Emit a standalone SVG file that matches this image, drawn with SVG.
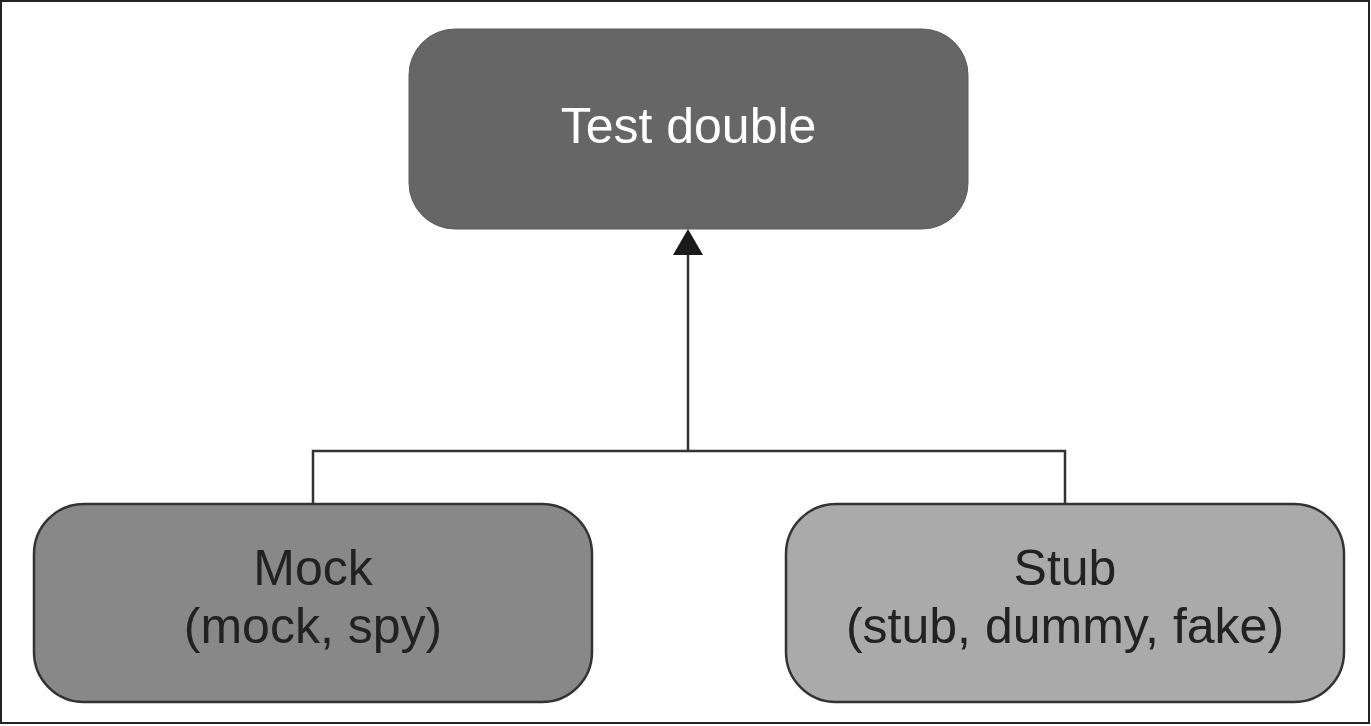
<svg xmlns="http://www.w3.org/2000/svg" width="1371" height="726" viewBox="0 0 1371 726">
<style>
.lbl{font-family:"Liberation Sans",Arial,sans-serif;font-size:50px;text-anchor:middle}
.dark{fill:#222}
.light{fill:#fff}
.conn{stroke:#333;stroke-width:2.5;fill:none}
.box{stroke:#333;stroke-width:2.5}
</style>
<rect x="1" y="1" width="1368" height="722" fill="#fff" stroke="#222" stroke-width="2"/>
<g id="connectors">
<polyline class="conn" points="313,505 313,451 1065,451 1065,505"/>
<line class="conn" x1="688" y1="451" x2="688" y2="252"/>
<polygon points="688,229 673,255 703,255" fill="#1a1a1a"/>
</g>
<g id="test-double">
<rect x="409" y="29" width="559" height="200" rx="46" ry="46" fill="#666" stroke="#5c5c5c" stroke-width="1"/>
<text class="lbl light" x="688.5" y="143">Test double</text>
</g>
<g id="mock">
<rect class="box" x="34" y="504" width="558" height="198" rx="50" ry="50" fill="#888"/>
<text class="lbl dark" x="313" y="585">Mock</text>
<text class="lbl dark" x="313" y="643">(mock, spy)</text>
</g>
<g id="stub">
<rect class="box" x="786" y="504" width="558" height="198" rx="50" ry="50" fill="#aaa"/>
<text class="lbl dark" x="1065" y="585">Stub</text>
<text class="lbl dark" x="1065" y="643">(stub, dummy, fake)</text>
</g>
</svg>
